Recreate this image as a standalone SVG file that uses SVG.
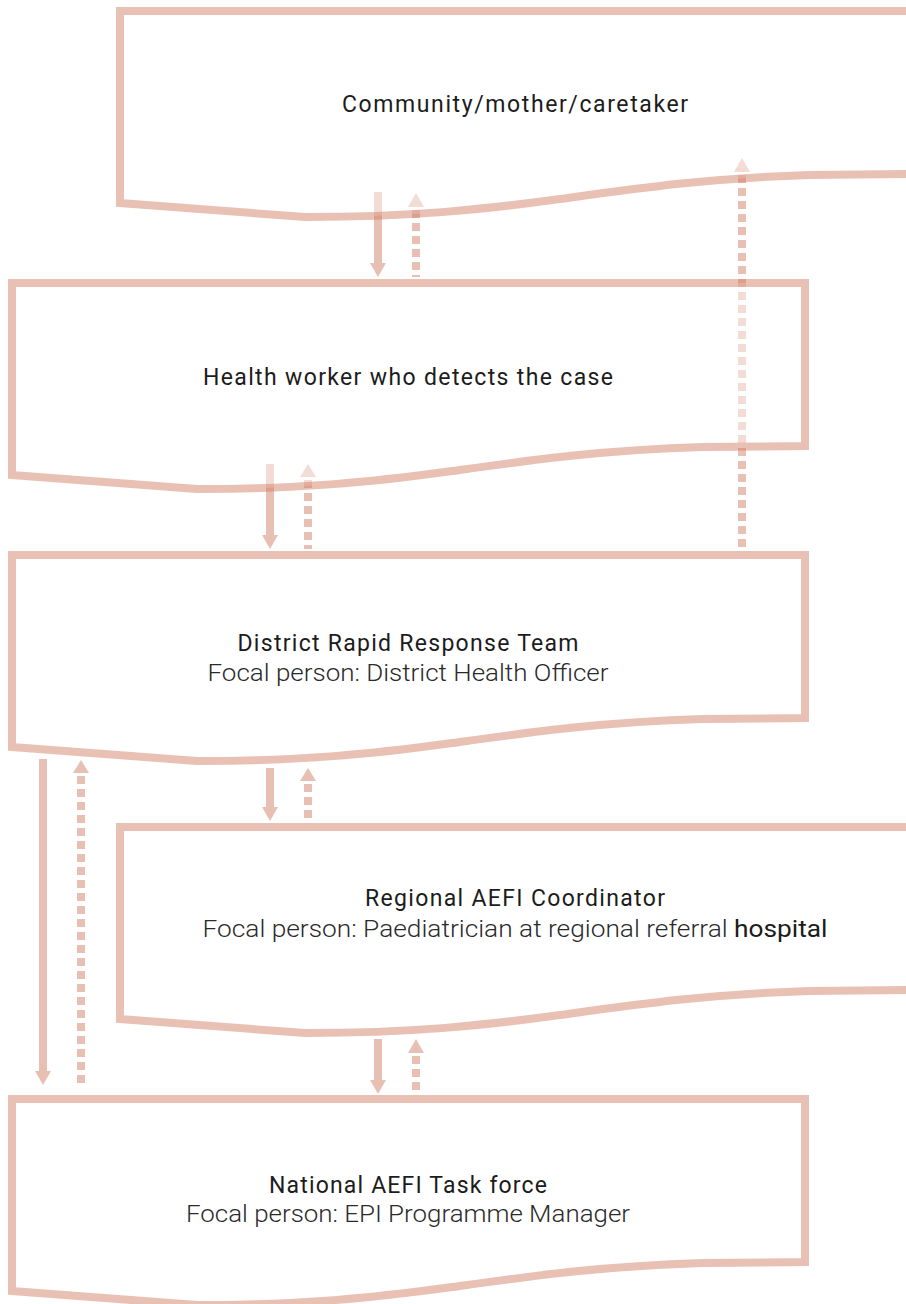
<svg xmlns="http://www.w3.org/2000/svg" width="906" height="1304" viewBox="0 0 906 1304">
<style>
.box use{fill:#ffffff;fill-opacity:0.45;stroke:#d07a60;stroke-opacity:0.47;stroke-width:8;stroke-linejoin:miter}
.t{font-family:Roboto,"Liberation Sans",sans-serif;font-size:23px;fill:#1c1c1c;text-anchor:middle}
.f{font-family:Roboto,"Liberation Sans",sans-serif;font-size:23px;font-weight:300;fill:#2a2a2a;text-anchor:middle}
.h{font-weight:400;fill:#1c1c1c}
.solid{stroke:#d07a60;stroke-width:8;fill:none}
.dash{stroke:#d07a60;stroke-width:8;fill:none;stroke-dasharray:8 5}
.head{fill:#d07a60}
#connectors{opacity:0.47}
</style>
<defs>
<path id="doc" d="M0,0 H793 V163 L690,164 C590,167 520,177 440,188 C360,199 290,206 185,206 L0,192 Z"/>
</defs>
<g id="connectors">
<line class="solid" x1="378" y1="192" x2="378" y2="266"/>
<polygon class="head" points="370,263 386,263 378,277"/>
<line class="dash" x1="416" y1="210" x2="416" y2="277"/>
<polygon class="head" points="408,207 424,207 416,193"/>
<line class="solid" x1="270" y1="464" x2="270" y2="538"/>
<polygon class="head" points="262,535 278,535 270,549"/>
<line class="dash" x1="308" y1="480" x2="308" y2="549"/>
<polygon class="head" points="300,477 316,477 308,464"/>
<line class="dash" x1="742" y1="175" x2="742" y2="550"/>
<polygon class="head" points="734,172 750,172 742,158"/>
<line class="solid" x1="43" y1="759" x2="43" y2="1074"/>
<polygon class="head" points="35,1071 51,1071 43,1085"/>
<line class="dash" x1="81" y1="776" x2="81" y2="1085"/>
<polygon class="head" points="73,773 89,773 81,760"/>
<line class="solid" x1="270" y1="768" x2="270" y2="810"/>
<polygon class="head" points="262,807 278,807 270,821"/>
<line class="dash" x1="308" y1="784" x2="308" y2="821"/>
<polygon class="head" points="300,781 316,781 308,768"/>
<line class="solid" x1="378" y1="1039" x2="378" y2="1083"/>
<polygon class="head" points="370,1080 386,1080 378,1094"/>
<line class="dash" x1="416" y1="1056" x2="416" y2="1093"/>
<polygon class="head" points="408,1053 424,1053 416,1039"/>
</g>
<g id="community" class="box">
<use href="#doc" transform="translate(120,11)"/>
<text class="t" x="515" y="112" textLength="346" lengthAdjust="spacing">Community/mother/caretaker</text>
</g>
<g id="health-worker" class="box">
<use href="#doc" transform="translate(12,283)"/>
<text class="t" x="408" y="385" textLength="410" lengthAdjust="spacing">Health worker who detects the case</text>
</g>
<g id="district" class="box">
<use href="#doc" transform="translate(12,555)"/>
<text class="t" x="408" y="651" textLength="341" lengthAdjust="spacing">District Rapid Response Team</text>
<text class="f" x="408" y="681" textLength="401" lengthAdjust="spacingAndGlyphs">Focal person: District Health Officer</text>
</g>
<g id="regional" class="box">
<use href="#doc" transform="translate(120,827)"/>
<text class="t" x="515" y="906" textLength="300" lengthAdjust="spacing">Regional AEFI Coordinator</text>
<text class="f" x="515" y="937" textLength="625" lengthAdjust="spacingAndGlyphs">Focal person: Paediatrician at regional referral <tspan class="h">hospital</tspan></text>
</g>
<g id="national" class="box">
<use href="#doc" transform="translate(12,1099)"/>
<text class="t" x="408" y="1193" textLength="278" lengthAdjust="spacing">National AEFI Task force</text>
<text class="f" x="408" y="1222" textLength="444" lengthAdjust="spacingAndGlyphs">Focal person: EPI Programme Manager</text>
</g>
</svg>
